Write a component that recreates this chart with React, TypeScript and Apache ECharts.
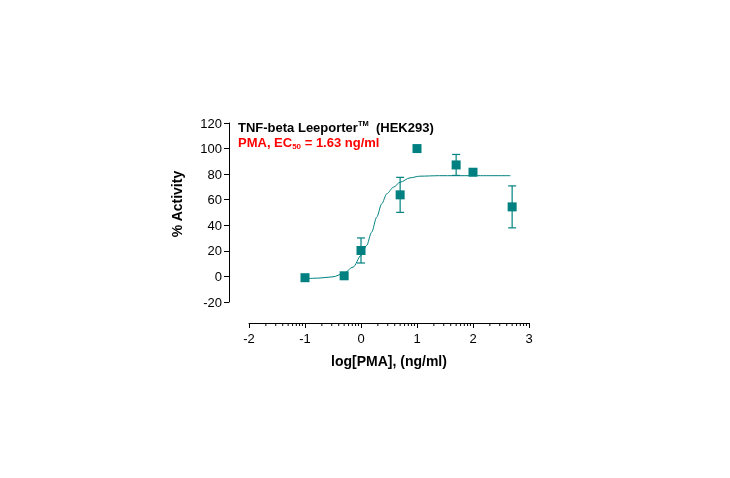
import React, { useEffect, useRef } from "react";
import * as echarts from "echarts";

// Measured data (log10 of PMA concentration in ng/ml)
const logConc = [-1, -0.301, 0, 0.699, 1, 1.699, 2, 2.699];
const activity = [-1, 0.5, 20.3, 63.8, 100, 87.2, 81.5, 54.4];
const errorSem = [0, 0, 9.8, 13.7, 0, 8.2, 1.5, 16.4];

// Fitted curve
const fitX = [-1, -0.75, -0.5, -0.32, -0.14, 0, 0.1, 0.19, 0.28, 0.37, 0.46, 0.58, 0.7, 0.875, 1.05, 1.4, 2.0, 2.67];
const fitY = [-1.8, -1.3, -0.3, 2.1, 7.3, 16.4, 24.2, 34.6, 46.3, 56.8, 64.6, 69.8, 73.7, 77.1, 78.4, 78.8, 78.8, 78.8];

// Axis definitions
const xMin = -2;
const xMax = 3;
const yMin = -20;
const yMax = 120;
const minorDecades = [-2, -1, 0, 1, 2];
const minorMultipliers = [2, 3, 4, 5, 6, 7, 8, 9];

const title1 = "TNF-beta Leeporter";
const title1Sup = "TM";
const title1Tail = "  (HEK293)";
const title2a = "PMA, EC";
const title2Sub = "50";
const title2b = " = 1.63 ng/ml";
const xName = "log[PMA], (ng/ml)";
const yName = "% Activity";

const TEAL = "#008080";
const FONT = "Arial, 'Liberation Sans', sans-serif";
const X_OFFSET = 21;
const Y_OFFSET = 20;

export default function App() {
  const ref = useRef<HTMLDivElement>(null);

  useEffect(() => {
    if (!ref.current) return;
    const chart = echarts.init(ref.current, undefined, { renderer: "svg" });

    const minorTicks: number[][] = [];
    minorDecades.forEach((d) => {
      minorMultipliers.forEach((m) => {
        minorTicks.push([d + Math.log10(m), yMin]);
      });
    });

    const errData = logConc.map((x, i) => [x, activity[i] - errorSem[i], activity[i] + errorSem[i]]);
    const pts = logConc.map((x, i) => [x, activity[i]]);
    const fit = fitX.map((x, i) => [x, fitY[i]]);

    chart.setOption({
      animation: false,
      grid: { left: 249, right: 201, top: 123, bottom: 176, containLabel: false },
      xAxis: {
        type: "value",
        min: xMin,
        max: xMax,
        interval: 1,
        offset: X_OFFSET,
        splitLine: { show: false },
        axisLine: { show: true, onZero: false, lineStyle: { color: "#000", width: 1 } },
        axisTick: { show: true, inside: false, length: 5, lineStyle: { color: "#000" } },
        axisLabel: { color: "#000", fontFamily: FONT, fontSize: 13, margin: 9 },
        name: xName,
        nameLocation: "middle",
        nameGap: 31,
        nameTextStyle: { color: "#000", fontFamily: FONT, fontSize: 14, fontWeight: "bold" },
      },
      yAxis: {
        type: "value",
        min: yMin,
        max: yMax,
        interval: 20,
        offset: Y_OFFSET,
        splitLine: { show: false },
        axisLine: { show: true, onZero: false, lineStyle: { color: "#000", width: 1 } },
        axisTick: { show: true, inside: false, length: 5, lineStyle: { color: "#000" } },
        axisLabel: { color: "#000", fontFamily: FONT, fontSize: 13, margin: 7 },
      },
      graphic: [
        {
          type: "text",
          x: 177,
          y: 204,
          rotation: Math.PI / 2,
          style: {
            text: yName,
            fill: "#000",
            font: `bold 14px ${FONT}`,
            align: "center",
            verticalAlign: "middle",
          },
        },
        {
          type: "text",
          x: 238,
          y: 127,
          style: {
            text: `{a|${title1}}{s|${title1Sup}}{a|${title1Tail}}`,
            verticalAlign: "middle",
            rich: {
              a: { fontFamily: FONT, fontSize: 13, fontWeight: "bold", fill: "#000", lineHeight: 16 },
              s: { fontFamily: FONT, fontSize: 7.5, fontWeight: "bold", fill: "#000", verticalAlign: "top", lineHeight: 16, padding: [0, 0, 6, 0] },
            },
          },
        },
        {
          type: "text",
          x: 238,
          y: 142,
          style: {
            text: `{a|${title2a}}{s|${title2Sub}}{a|${title2b}}`,
            verticalAlign: "middle",
            rich: {
              a: { fontFamily: FONT, fontSize: 13, fontWeight: "bold", fill: "#ff0000", lineHeight: 16 },
              s: { fontFamily: FONT, fontSize: 8, fontWeight: "bold", fill: "#ff0000", verticalAlign: "bottom", lineHeight: 16, padding: [6, 0, 0, 0] },
            },
          },
        },
      ],
      series: [
        {
          type: "custom",
          name: "minorTicks",
          clip: false,
          silent: true,
          data: minorTicks,
          renderItem: (params: any, api: any) => {
            const p = api.coord([api.value(0), yMin]);
            return {
              type: "line",
              shape: { x1: p[0], y1: p[1] + X_OFFSET, x2: p[0], y2: p[1] + X_OFFSET + 3 },
              style: { stroke: "#000", lineWidth: 1 },
            };
          },
        },
        {
          type: "line",
          name: "fit",
          data: fit,
          smooth: 0.3,
          smoothMonotone: "x",
          showSymbol: false,
          symbol: "none",
          lineStyle: { color: TEAL, width: 1 },
          z: 2,
        },
        {
          type: "custom",
          name: "errors",
          data: errData,
          z: 3,
          renderItem: (params: any, api: any) => {
            const x = api.value(0);
            const lo = api.coord([x, api.value(1)]);
            const hi = api.coord([x, api.value(2)]);
            if (Math.abs(lo[1] - hi[1]) < 0.5) return { type: "group", children: [] };
            const hw = 4;
            const st = { stroke: TEAL, lineWidth: 1.2 };
            return {
              type: "group",
              children: [
                { type: "line", shape: { x1: lo[0], y1: lo[1], x2: hi[0], y2: hi[1] }, style: st },
                { type: "line", shape: { x1: hi[0] - hw, y1: hi[1], x2: hi[0] + hw, y2: hi[1] }, style: st },
                { type: "line", shape: { x1: lo[0] - hw, y1: lo[1], x2: lo[0] + hw, y2: lo[1] }, style: st },
              ],
            };
          },
        },
        {
          type: "scatter",
          name: "data",
          data: pts,
          symbol: "rect",
          symbolSize: 9,
          itemStyle: { color: TEAL, opacity: 1 },
          z: 4,
        },
      ],
    });

    return () => chart.dispose();
  }, []);

  return <div ref={ref} style={{ position: "fixed", left: 0, top: 0, width: 730, height: 478 }} />;
}
